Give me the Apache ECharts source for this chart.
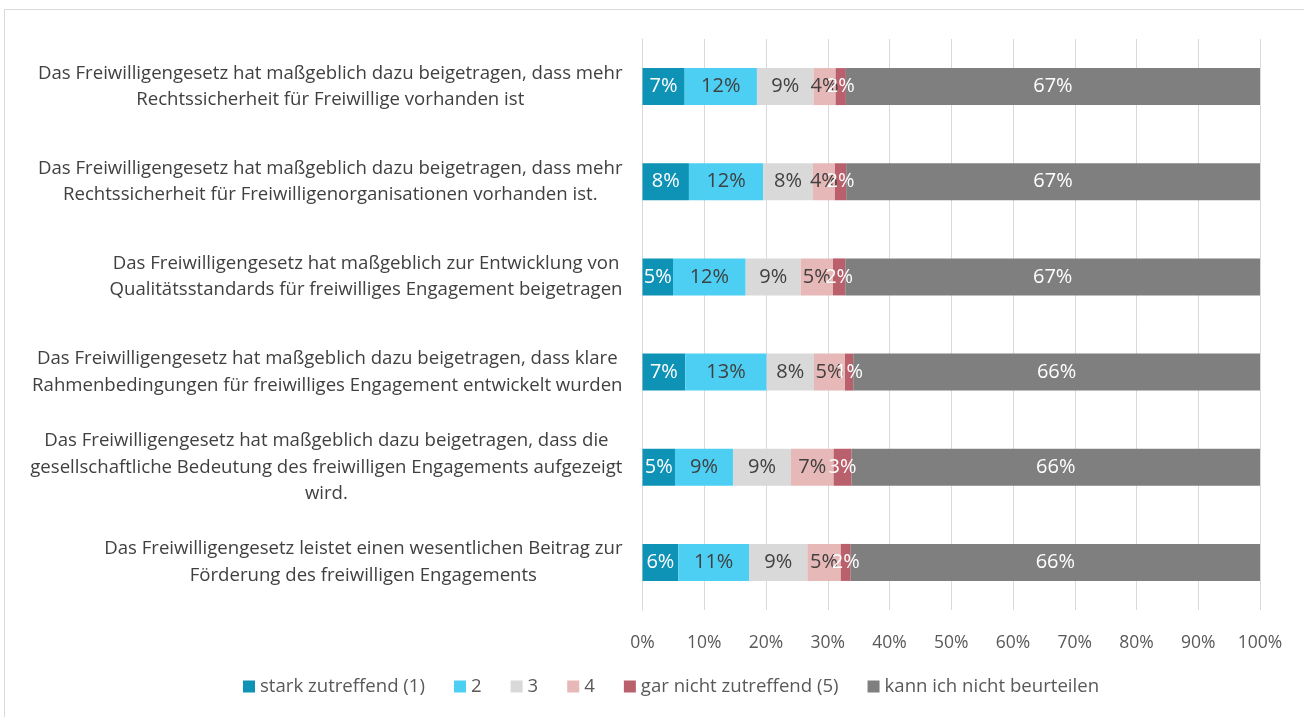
<!DOCTYPE html>
<html>
<head>
<meta charset="utf-8">
<script src="https://cdn.jsdelivr.net/npm/echarts@6/dist/echarts.min.js"></script>
<style>
  html, body { margin: 0; padding: 0; background: #fff; }
  #chart { width: 1304px; height: 717px; }
</style>
</head>
<body>
<div id="chart"></div>
<script>
// statements (top to bottom)
const categories = [
  'Das Freiwilligengesetz hat maßgeblich dazu beigetragen, dass mehr\nRechtssicherheit für Freiwillige vorhanden ist',
  'Das Freiwilligengesetz hat maßgeblich dazu beigetragen, dass mehr\nRechtssicherheit für Freiwilligenorganisationen vorhanden ist.',
  'Das Freiwilligengesetz hat maßgeblich zur Entwicklung von\nQualitätsstandards für freiwilliges Engagement beigetragen',
  'Das Freiwilligengesetz hat maßgeblich dazu beigetragen, dass klare\nRahmenbedingungen für freiwilliges Engagement entwickelt wurden',
  'Das Freiwilligengesetz hat maßgeblich dazu beigetragen, dass die\ngesellschaftliche Bedeutung des freiwilligen Engagements aufgezeigt\nwird.',
  'Das Freiwilligengesetz leistet einen wesentlichen Beitrag zur\nFörderung des freiwilligen Engagements'
]

const seriesNames = ['stark zutreffend (1)', '2', '3', '4', 'gar nicht zutreffend (5)', 'kann ich nicht beurteilen']

// shares in percent
const stark = [6.83, 7.52, 4.94, 6.93, 5.26, 5.80]
const zwei = [11.70, 12.03, 11.77, 13.18, 9.39, 11.45]
const drei = [9.18, 8.05, 8.91, 7.66, 9.39, 9.45]
const vier = [3.56, 3.55, 5.23, 5.02, 6.91, 5.40]
const garNicht = [1.67, 1.83, 1.99, 1.34, 2.91, 1.62]
const kannNicht = [67.06, 67.02, 67.16, 65.87, 66.14, 66.28]

const xTicks = [0, 10, 20, 30, 40, 50, 60, 70, 80, 90, 100]

const colors = ['#0e93b6', '#4dcff3', '#d9d9d9', '#e6b8b7', '#b9606c', '#7f7f7f']
const labelColors = ['#ffffff', '#404040', '#404040', '#404040', '#ffffff', '#ffffff']

const font = 'Open Sans'
const allValues = [stark, zwei, drei, vier, garNicht, kannNicht]

const chart = echarts.init(document.getElementById('chart'))

const option = {
  animation: false,
  color: colors,
  textStyle: { fontFamily: font },
  graphic: [{
    type: 'rect',
    shape: { x: 4.5, y: 9.5, width: 1320, height: 730 },
    style: { fill: 'none', stroke: '#d9d9d9', lineWidth: 1 },
    silent: true
  }],
  grid: {
    left: 642.5,
    right: 44,
    top: 39,
    bottom: 107
  },
  legend: {
    bottom: 16,
    left: 238,
    itemWidth: 12,
    itemHeight: 12,
    itemGap: 29,
    icon: 'rect',
    textStyle: { color: '#595959', fontSize: 18.6, fontFamily: font },
    data: seriesNames
  },
  xAxis: {
    type: 'value',
    min: 0,
    max: 100,
    interval: 10,
    axisLine: { show: false },
    axisTick: { show: false },
    splitLine: { lineStyle: { color: '#d9d9d9', width: 1 } },
    axisLabel: {
      color: '#595959',
      fontSize: 17.5,
      margin: 24,
      formatter: v => xTicks.includes(v) ? v + '%' : ''
    }
  },
  yAxis: {
    type: 'category',
    inverse: true,
    data: categories,
    axisTick: { show: false },
    axisLine: { lineStyle: { color: '#d9d9d9', width: 1 } },
    axisLabel: {
      margin: 20,
      color: '#404040',
      formatter: v => '{a|' + v + '}',
      rich: {
        a: { align: 'center', lineHeight: 26.5, fontSize: 18.6, color: '#404040', fontFamily: font }
      }
    }
  },
  series: seriesNames.map((name, i) => ({
    name: name,
    type: 'bar',
    stack: 'total',
    barWidth: 37,
    data: allValues[i],
    itemStyle: { color: colors[i] },
    label: {
      show: true,
      position: 'inside',
      color: labelColors[i],
      fontSize: 20,
      fontFamily: font,
      formatter: p => Math.round(p.value) + '%'
    }
  }))
}

chart.setOption(option)
</script>
</body>
</html>
